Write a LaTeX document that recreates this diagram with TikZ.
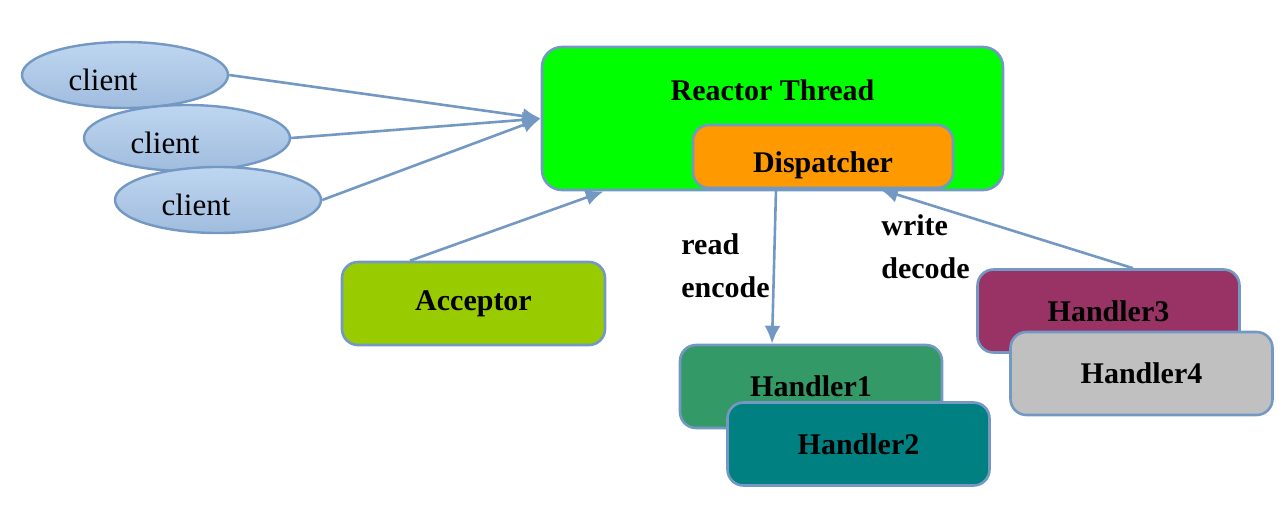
\documentclass[tikz,border=0pt]{standalone}
\usepackage{fontspec}
\setmainfont{Liberation Serif}
\usetikzlibrary{shapes.geometric,arrows.meta}
\definecolor{edgeblue}{RGB}{115,152,196}
\definecolor{rgreen}{RGB}{0,255,0}
\definecolor{dorange}{RGB}{255,153,0}
\definecolor{alime}{RGB}{153,204,0}
\definecolor{hsea}{RGB}{51,153,102}
\definecolor{hteal}{RGB}{0,128,128}
\definecolor{hplum}{RGB}{153,51,102}
\definecolor{hgray}{RGB}{192,192,192}
\begin{document}
\begin{tikzpicture}[x=0.5pt,y=-0.5pt,
  box/.style={draw=edgeblue, line width=1.3pt, rounded corners=8pt, inner sep=0pt,
    font=\fontsize{15}{18}\selectfont\bfseries},
  cli/.style={draw=edgeblue, line width=1.2pt, ellipse, top color={rgb,255:red,190;green,214;blue,240},
    bottom color={rgb,255:red,160;green,188;blue,222}, minimum width=103pt, minimum height=33pt,
    inner sep=0pt, text height=15.5pt, text depth=0pt, font=\fontsize{15.5}{17}\selectfont},
  flow/.style={draw=edgeblue, line width=1.3pt, -{Latex[length=9pt,width=8pt]}},
  lab/.style={align=left, inner sep=0pt, font=\fontsize{15}{21.5}\selectfont\bfseries}]
  \useasboundingbox (0,0) rectangle (1284,504);
  \foreach \i/\x/\y in {1/125/75,2/187/138,3/218/200} {
    \node[cli] (c\i) at (\x,\y) {client\hspace*{22pt}};
  }
  \node[box, fill=rgreen, minimum width=230.5pt, minimum height=71.5pt, rounded corners=10pt,
    label={[anchor=north, inner sep=0pt, font=\fontsize{15}{18}\selectfont\bfseries, yshift=-17pt]north:Reactor Thread}]
    (reactor) at (772.5,118.5) {};
  \node[box, fill=dorange, minimum width=130pt, minimum height=31.5pt, text height=19.5pt, text depth=3.2pt]
    (disp) at (823,156.5) {Dispatcher};
  \node[box, fill=alime, minimum width=131.5pt, minimum height=41.5pt] (acceptor) at (473.5,303.5) {Acceptor};
  \foreach \i/\x/\y/\col in {1/811/386.5/hsea,2/858.5/444/hteal,3/1108.5/311/hplum,4/1141.5/373.5/hgray} {
    \node[box, fill=\col, minimum width=131pt, minimum height=41.5pt] (h\i) at (\x,\y) {Handler\i};
  }
  \foreach \i in {1,2,3} {
    \draw[flow] (c\i.east) -- (reactor.west);
  }
  \draw[flow] ([xshift=-31.75pt]acceptor.north) -- ([xshift=31.5pt]reactor.south west);
  \draw[flow] ([xshift=-23.5pt]disp.south) -- ([xshift=-19.5pt]h1.north);
  \draw[flow] ([xshift=12.25pt]h3.north) -- ([xshift=28.5pt]disp.south);
  \node[lab, anchor=west] (rd) at (681,266) {read\\encode};
  \node[lab, anchor=west] (wr) at (881,247) {write\\decode};
\end{tikzpicture}
\end{document}
